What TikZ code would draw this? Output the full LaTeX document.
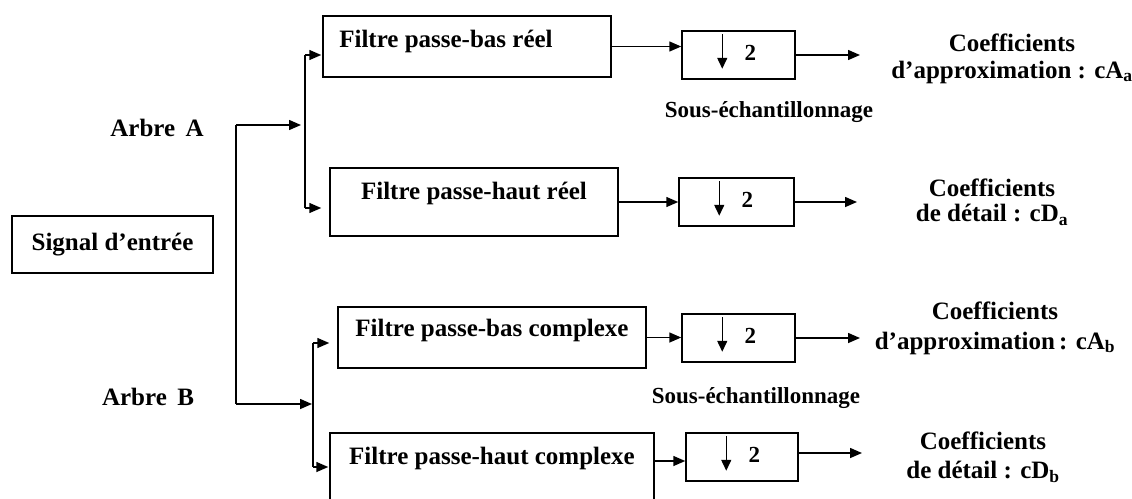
\documentclass[tikz,border=0pt]{standalone}
\usepackage{fontspec}
\setmainfont{Liberation Serif}
\usetikzlibrary{arrows.meta}
\begin{document}
\begin{tikzpicture}[x=1pt,y=-1pt,
  box/.style={draw, line width=1.5pt, inner sep=0pt, rectangle},
  lbl/.style={font=\fontsize{25}{28}\selectfont\bfseries, inner sep=0pt},
  small/.style={font=\fontsize{23}{26}\selectfont\bfseries, inner sep=0pt},
  coef/.style={font=\fontsize{25}{28}\selectfont\bfseries, inner sep=0pt, align=center},
  conn/.style={line width=1.5pt, -{Triangle[length=12pt,width=10pt]}},
  wire/.style={line width=1.5pt}]
\useasboundingbox (0,0) rectangle (1132,498);

% input box
\node[box, lbl, minimum width=201pt, minimum height=57pt] (sig) at (112.5,244.5) {Signal d’entrée};

% tree labels
\node[lbl] (arbA) at (157,128) {Arbre\, A};
\node[lbl] (arbB) at (148,397) {Arbre\, B};

% filter boxes
\node[box, minimum width=288pt, minimum height=61pt] (fA1) at (467,46.5) {};
\node[lbl, xshift=-21pt, yshift=5.5pt] (tA1) at (fA1) {Filtre passe-bas réel};
\node[box, minimum width=288pt, minimum height=68pt] (fA2) at (474,202) {};
\node[lbl, yshift=9pt] (tA2) at (fA2) {Filtre passe-haut réel};
\node[box, minimum width=308pt, minimum height=61pt] (fB1) at (492,337.5) {};
\node[lbl, yshift=7.5pt] (tB1) at (fB1) {Filtre passe-bas complexe};
\node[box, minimum width=324pt, minimum height=72pt] (fB2) at (492,469) {};
\node[lbl, yshift=11pt] (tB2) at (fB2) {Filtre passe-haut complexe};

% downsampling boxes
\node[box, minimum width=113pt, minimum height=48pt] (dA1) at (738.5,55) {};
\node[box, minimum width=115pt, minimum height=48pt] (dA2) at (736.5,202) {};
\node[box, minimum width=113pt, minimum height=48pt] (dB1) at (738.5,338) {};
\node[box, minimum width=112pt, minimum height=48pt] (dB2) at (742,457) {};
\foreach \d in {dA1,dA2,dB1,dB2}{
  \draw[line width=1.5pt, -{Triangle[length=11pt,width=10pt]}]
    ([xshift=41pt,yshift=-4pt]\d.north west) -- ([xshift=41pt,yshift=11pt]\d.south west);
  \node[small, xshift=69pt, yshift=2pt] (n\d) at (\d.west) {2};
}

% sub-sampling labels
\node[small] (ssA) at (769,112) {Sous-échantillonnage};
\node[small] (ssB) at (756,398) {Sous-échantillonnage};

% coefficients
\node[coef] (cAa) at (1012,58.5) {Coefficients\\[-1pt] d’approximation : cA\textsubscript{a}};
\node[coef] (cDa) at (992,202.5) {Coefficients\\[-3pt] de détail : cD\textsubscript{a}};
\node[coef] (cAb) at (995,328) {Coefficients\\[2pt] d’approximation\,: cA\textsubscript{b}};
\node[coef] (cDb) at (983,457.5) {Coefficients\\[1pt] de détail : cD\textsubscript{b}};

% trunk and branches
\coordinate (tA) at (236,125);
\coordinate (tB) at (236,404);
\coordinate (jA) at (305,125);
\coordinate (jA1) at (305,55);
\coordinate (jA2) at (305,208);
\coordinate (jB) at (313,404);
\coordinate (jB1) at (313,343);
\coordinate (jB2) at (313,467);
\draw[wire] (tA) -- (tB);
\draw[conn, shorten >=4pt] (tA) -- (jA);
\draw[conn, shorten >=1pt] (tB) -- (jB);
\draw[wire] (jA1) -- (jA2);
\draw[wire] (jB1) -- (jB2);
\draw[conn, shorten >=1pt] (jA1) -- (jA1 -| fA1.west);
\draw[conn, shorten >=8pt] (jA2) -- (jA2 -| fA2.west);
\draw[conn, shorten >=8pt] (jB1) -- (jB1 -| fB1.west);
\draw[conn, shorten >=1pt] (jB2) -- (jB2 -| fB2.west);

% filter -> downsampler
\draw[conn] (fA1.east) -- (fA1.east -| dA1.west);
\draw[conn] (fA2.east) -- (fA2.east -| dA2.west);
\draw[conn] (fB1.east) -- (fB1.east -| dB1.west);
\coordinate (pB2) at ([yshift=8pt]fB2.east);
\draw[conn] (pB2) -- (pB2 -| dB2.west);

% downsampler -> outputs
\coordinate (oA1) at (860,55);
\coordinate (oA2) at (857,202);
\coordinate (oB1) at (860,338);
\coordinate (oB2) at (862,453);
\draw[conn] (dA1.east) -- (oA1);
\draw[conn] (dA2.east) -- (oA2);
\draw[conn] (dB1.east) -- (oB1);
\coordinate (qB2) at ([yshift=4pt]dB2.east);
\draw[conn] (qB2) -- (oB2);
\end{tikzpicture}
\end{document}
